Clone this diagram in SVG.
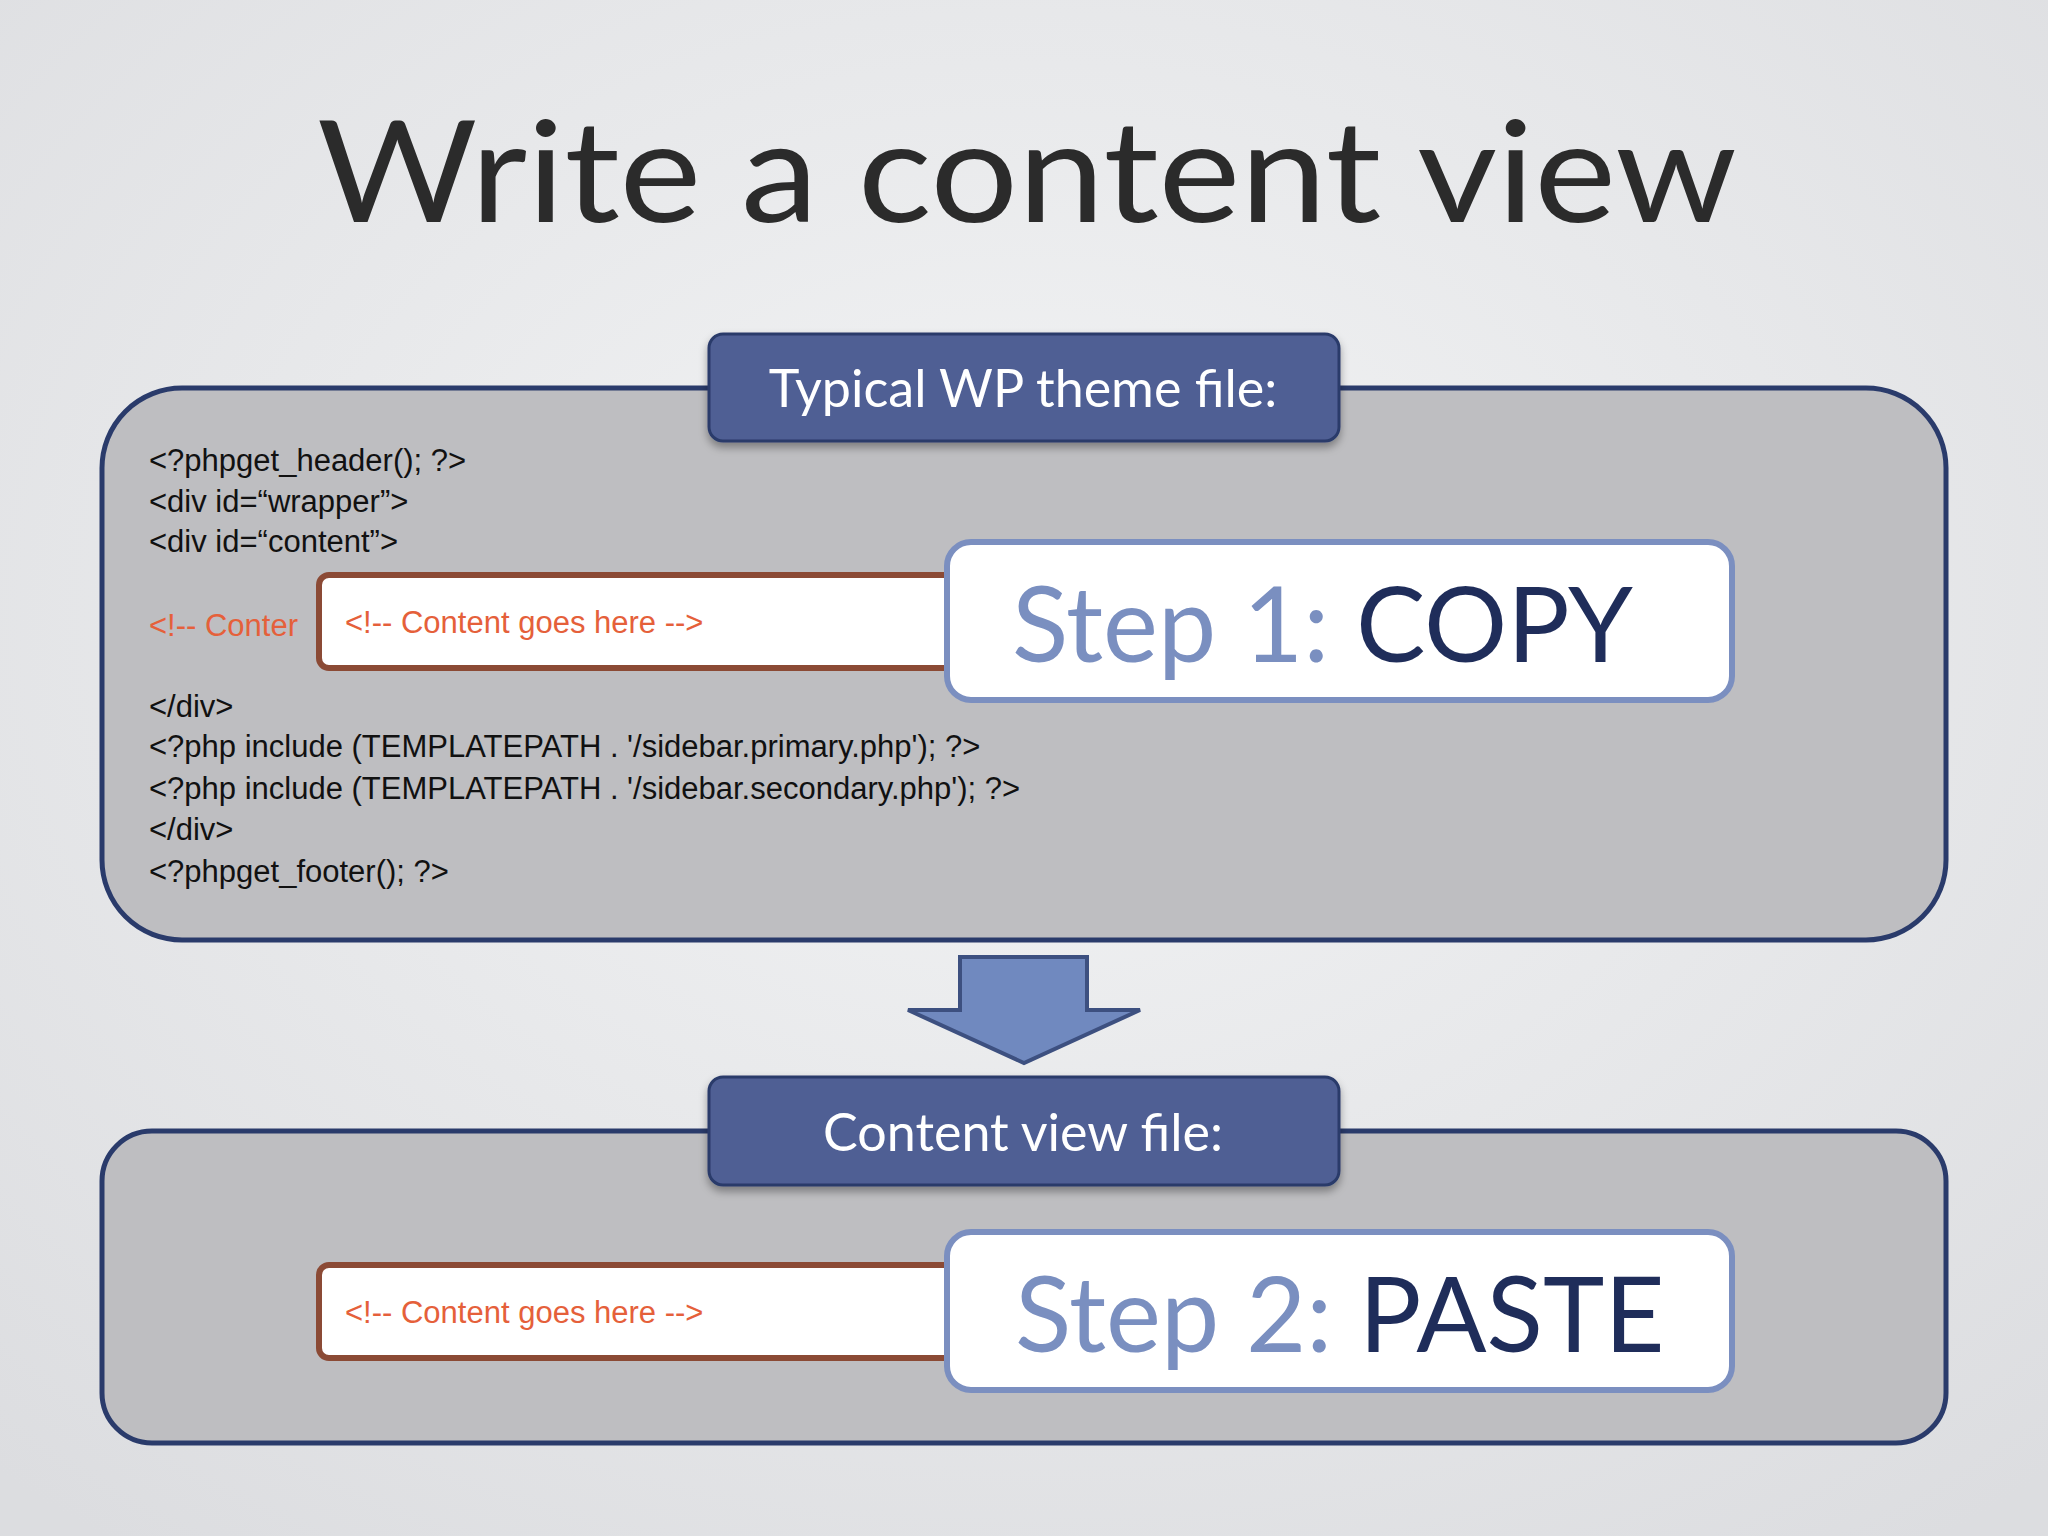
<svg xmlns="http://www.w3.org/2000/svg" width="2048" height="1536" viewBox="0 0 2048 1536">
<defs>
<radialGradient id="bg" cx="50%" cy="40%" r="75%"><stop offset="0" stop-color="#f3f4f5"/><stop offset="1" stop-color="#dcdde0"/></radialGradient>
<filter id="sh" x="-5%" y="-5%" width="110%" height="120%"><feDropShadow dx="0" dy="5" stdDeviation="4" flood-opacity="0.35"/></filter>
</defs>
<style>
.big{fill:#bebec1;stroke:#2a3b6b;stroke-width:5}
.tab{fill:#4f5f94;stroke:#2a3b6b;stroke-width:3;filter:url(#sh)}
.tabt{font-family:Lato,"Liberation Sans",sans-serif;font-size:52px;fill:#fff;text-anchor:middle}
.code{font-family:"Liberation Sans",Arial,sans-serif;font-size:31px;fill:#111}
.or{font-family:"Liberation Sans",Arial,sans-serif;font-size:31px;fill:#e5603a}
.cbox{fill:#fff;stroke:#8b4a35;stroke-width:6}
.sbox{fill:#fff;stroke:#7b8fc0;stroke-width:6}
.step{font-family:Lato,"Liberation Sans",sans-serif;font-size:104px}
</style>
<rect width="2048" height="1536" fill="url(#bg)"/>
<text x="1027" y="222" text-anchor="middle" font-family="Lato,'Liberation Sans',sans-serif" font-size="142" fill="#2b2b2b" textLength="1420" lengthAdjust="spacingAndGlyphs">Write a content view</text>
<g id="theme-file">
<rect class="big" x="102" y="388" width="1844" height="552" rx="80"/>
<text class="code" x="149" y="471">&lt;?phpget_header(); ?&gt;</text>
<text class="code" x="149" y="512">&lt;div id=“wrapper”&gt;</text>
<text class="code" x="149" y="552">&lt;div id=“content”&gt;</text>
<text class="or" x="149" y="636">&lt;!-- Conter</text>
<text class="code" x="149" y="717">&lt;/div&gt;</text>
<text class="code" x="149" y="757">&lt;?php include (TEMPLATEPATH . '/sidebar.primary.php'); ?&gt;</text>
<text class="code" x="149" y="799">&lt;?php include (TEMPLATEPATH . '/sidebar.secondary.php'); ?&gt;</text>
<text class="code" x="149" y="840">&lt;/div&gt;</text>
<text class="code" x="149" y="882">&lt;?phpget_footer(); ?&gt;</text>
</g>
<g id="tab1"><rect class="tab" x="709" y="334" width="630" height="107" rx="14"/><text class="tabt" x="1023" y="407">Typical WP theme file:</text></g>
<g id="content1"><rect class="cbox" x="319" y="575" width="660" height="93" rx="10"/><text class="or" x="345" y="633">&lt;!-- Content goes here --&gt;</text></g>
<g id="step1"><rect class="sbox" x="947" y="542" width="785" height="158" rx="24"/><text class="step" x="1012" y="662"><tspan fill="#7a8fc0">Step 1: </tspan><tspan fill="#1f2d5a">COPY</tspan></text></g>
<g id="connectors"><polygon points="960,957 1087,957 1087,1010 1140,1010 1024,1063 908,1010 960,1010" fill="#7089bf" stroke="#3d5080" stroke-width="4"/></g>
<g id="view-file"><rect class="big" x="102" y="1131" width="1844" height="312" rx="50"/></g>
<g id="tab2"><rect class="tab" x="709" y="1077" width="630" height="108" rx="14"/><text class="tabt" x="1023" y="1151">Content view file:</text></g>
<g id="content2"><rect class="cbox" x="319" y="1265" width="660" height="93" rx="10"/><text class="or" x="345" y="1323">&lt;!-- Content goes here --&gt;</text></g>
<g id="step2"><rect class="sbox" x="947" y="1232" width="785" height="158" rx="24"/><text class="step" x="1015" y="1352"><tspan fill="#7a8fc0">Step 2: </tspan><tspan fill="#1f2d5a">PASTE</tspan></text></g>
</svg>
